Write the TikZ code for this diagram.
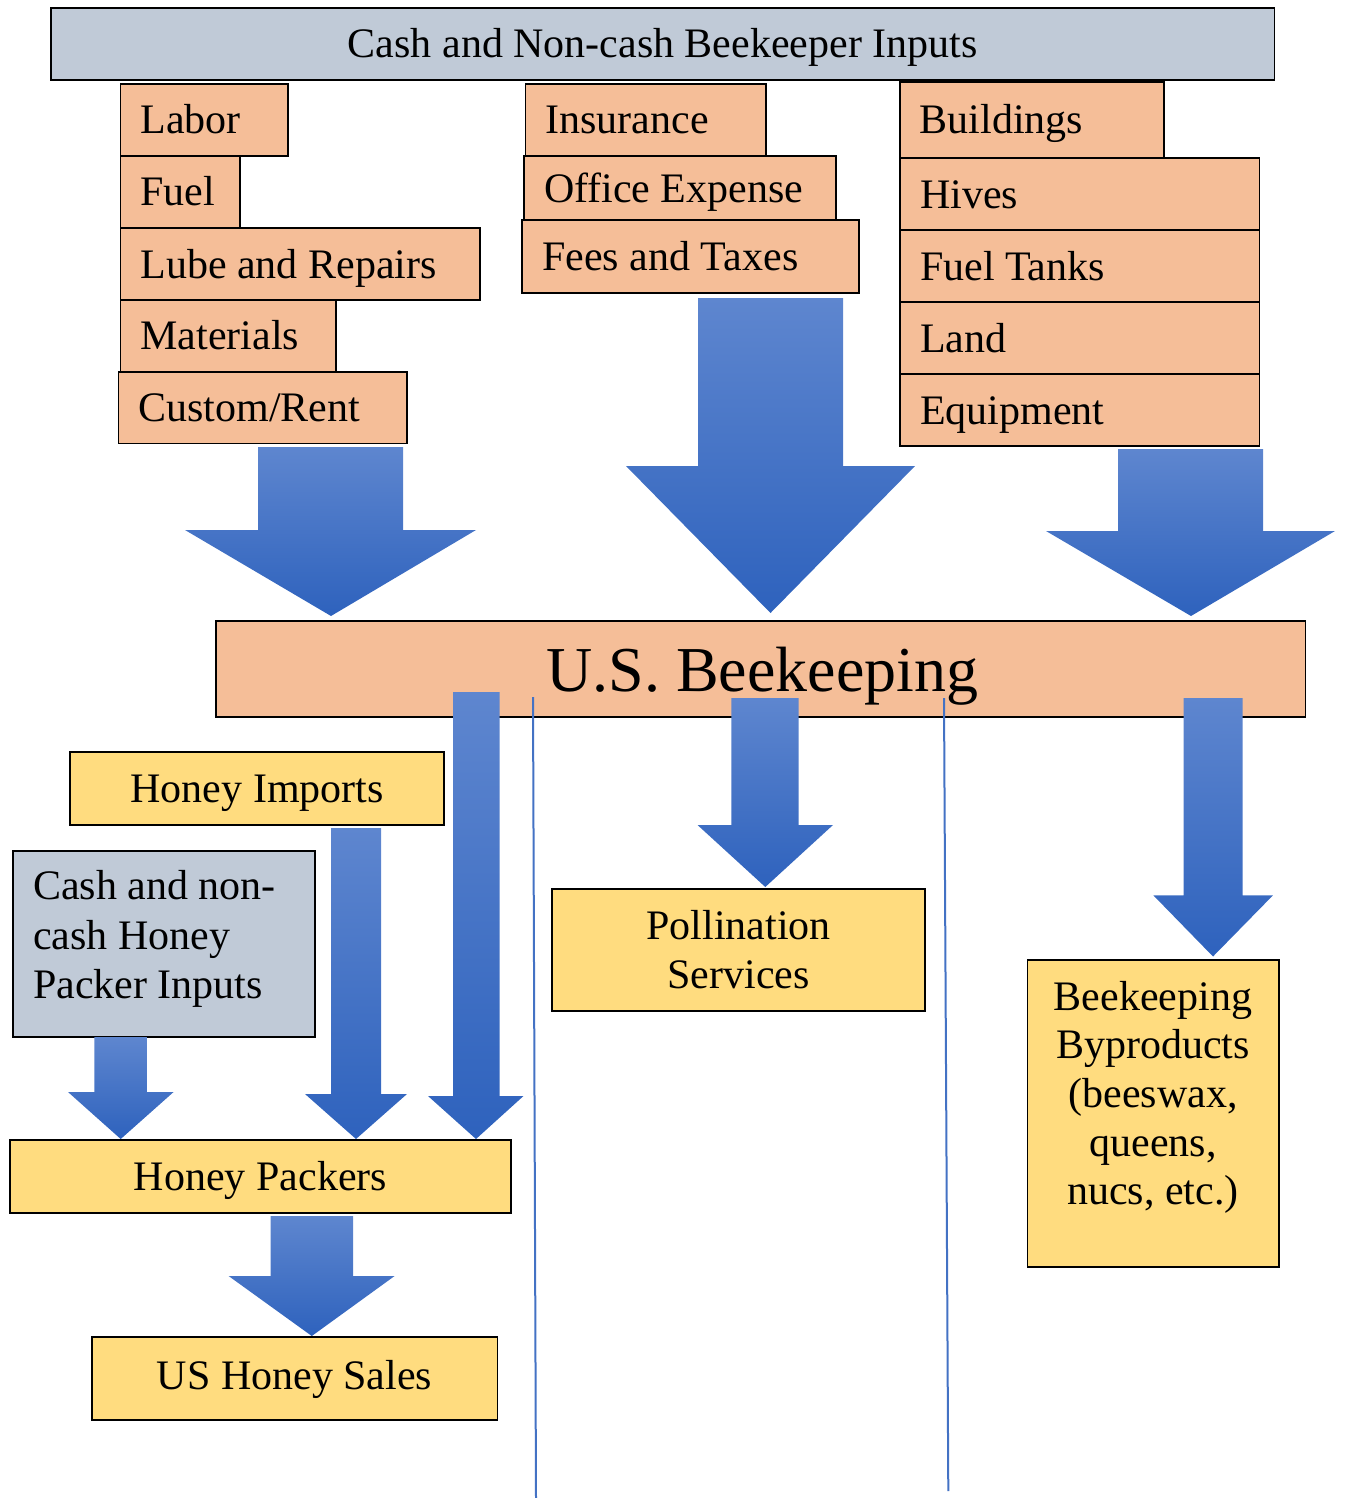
\documentclass[tikz,border=0pt]{standalone}
\usepackage{fontspec}
\setmainfont{Liberation Serif}
\usetikzlibrary{fit}
\definecolor{grayb}{HTML}{C0CAD7}
\definecolor{peach}{HTML}{F5BE98}
\definecolor{gold}{HTML}{FFDC7F}
\definecolor{atop}{HTML}{5E86CF}
\definecolor{abot}{HTML}{2E62BD}
\definecolor{lineblue}{HTML}{4472C4}
\tikzset{
  box/.style={draw=black, line width=1.8pt, inner sep=0pt, outer sep=0pt},
  lbl/.style={font=\fontsize{42}{49}\selectfont, inner sep=0pt, outer sep=0pt},
  biglbl/.style={font=\fontsize{64}{70}\selectfont, inner sep=0pt, outer sep=0pt},
  divider/.style={draw=lineblue, line width=2pt},
  blockarrow/.style={top color=atop, bottom color=abot, draw=none},
}
% box with left-aligned text: name, fill, x1, y1, x2, y2, text
\newcommand\bxleft[7]{%
  \node[box, fill=#2, fit={(#3,#4) (#5,#6)}] (#1) {};
  \node[lbl, anchor=base west] (#1-t) at ([shift={(20,14)}]#1.west) {#7};
}
% box with centred text
\newcommand\bxcent[7]{%
  \node[box, fill=#2, fit={(#3,#4) (#5,#6)}] (#1) {};
  \node[lbl, anchor=base] (#1-t) at ([shift={(0,14)}]#1.center) {#7};
}
% plain box
\newcommand\bxplain[6]{%
  \node[box, fill=#2, fit={(#3,#4) (#5,#6)}] (#1) {};
}
% block arrow: shaft xl, xr, ytop, yhead, head xl, head xr, tip x, tip y
\newcommand\barrow[8]{%
  \shade[blockarrow] (#1,#3) -- (#2,#3) -- (#2,#4) -- (#6,#4) -- (#7,#8) -- (#5,#4) -- (#1,#4) -- cycle;
}
\begin{document}
\begin{tikzpicture}[x=1pt, y=-1pt]
\useasboundingbox (0,0) rectangle (1344,1498);

% top banner
\bxcent{top}{grayb}{51}{8}{1274.5}{80}{Cash and Non-cash Beekeeper Inputs}

% left column
\bxleft{labor}{peach}{120.5}{84}{288}{155.7}{Labor}
\bxleft{fuel}{peach}{120.5}{156}{240}{227.5}{Fuel}
\bxleft{lube}{peach}{120.5}{228}{480}{300}{Lube and Repairs}
\bxleft{materials}{peach}{120.5}{300}{336}{371.5}{Materials}
\bxleft{custom}{peach}{118.5}{372}{407}{443.5}{Custom/Rent}

% middle column
\bxleft{insurance}{peach}{525.4}{84}{765.6}{155.7}{Insurance}
\bxleft{office}{peach}{524}{156}{835.8}{220}{Office Expense}
\bxleft{fees}{peach}{522.3}{220}{859}{293}{Fees and Taxes}

% right column
\bxleft{buildings}{peach}{899.8}{82}{1164}{158}{Buildings}
\bxleft{hives}{peach}{900}{158}{1259.5}{230}{Hives}
\bxleft{fueltanks}{peach}{900}{230}{1259.5}{302}{Fuel Tanks}
\bxleft{land}{peach}{900}{302}{1259.5}{374}{Land}
\bxleft{equipment}{peach}{900}{374}{1259.5}{446}{Equipment}

% big arrows into U.S. Beekeeping
\barrow{258}{403}{447}{530}{185}{476}{331}{616}
\barrow{698}{843}{298}{466}{626}{915}{770.5}{613}
\barrow{1118}{1263}{449}{531}{1046}{1335}{1191}{616}

% U.S. Beekeeping
\bxplain{usb}{peach}{216}{621}{1305.5}{717}
\node[biglbl, anchor=base] (usb-t) at ([shift={(1.5,22)}]usb.center) {U.S. Beekeeping};

% lower boxes
\bxcent{imports}{gold}{70}{752}{444.3}{825.3}{Honey Imports}
\bxplain{packin}{grayb}{12.9}{850.7}{315}{1037.3}
\node[lbl, anchor=base west] (packin-1) at (33,899) {Cash and non-};
\node[lbl, anchor=base west] (packin-2) at (33,949) {cash Honey};
\node[lbl, anchor=base west] (packin-3) at (33,998) {Packer Inputs};
\bxcent{packers}{gold}{10}{1140}{511}{1213}{Honey Packers}
\bxplain{sales}{gold}{91.8}{1337}{497.5}{1420}
\node[lbl, anchor=base] (sales-t) at (294.6,1389) {US Honey Sales};

\bxplain{poll}{gold}{551.7}{889}{925.2}{1010.7}
\node[lbl, anchor=base] (poll-1) at (738.5,939) {Pollination};
\node[lbl, anchor=base] (poll-2) at (738.5,988) {Services};

\bxplain{byp}{gold}{1027.4}{960}{1278.8}{1267}
\node[lbl, anchor=base] (byp-1) at (1153,1010) {Beekeeping};
\node[lbl, anchor=base] (byp-2) at (1153,1058.5) {Byproducts};
\node[lbl, anchor=base] (byp-3) at (1153,1107.5) {(beeswax,};
\node[lbl, anchor=base] (byp-4) at (1153,1156) {queens,};
\node[lbl, anchor=base] (byp-5) at (1153,1204.5) {nucs, etc.)};

% lower arrows
\barrow{453}{499.5}{692}{1096}{428}{523.5}{476}{1139}
\barrow{331}{381}{828}{1094}{305}{407}{356}{1139}
\barrow{94.3}{146.8}{1037}{1092}{68}{173.6}{120.7}{1139}
\barrow{270.7}{353.2}{1216}{1276}{228.6}{394.6}{311.8}{1336}
\barrow{731.4}{798.7}{698}{825}{697.5}{833}{765.3}{887}
\barrow{1183.5}{1242.7}{698}{895.4}{1153.4}{1272.9}{1213}{956.5}

% divider lines
\coordinate (d1a) at (533,697);
\coordinate (d1b) at (536,1498);
\coordinate (d2a) at (944,698);
\coordinate (d2b) at (948.3,1491);
\draw[divider] (d1a) -- (d1b);
\draw[divider] (d2a) -- (d2b);
\end{tikzpicture}
\end{document}
